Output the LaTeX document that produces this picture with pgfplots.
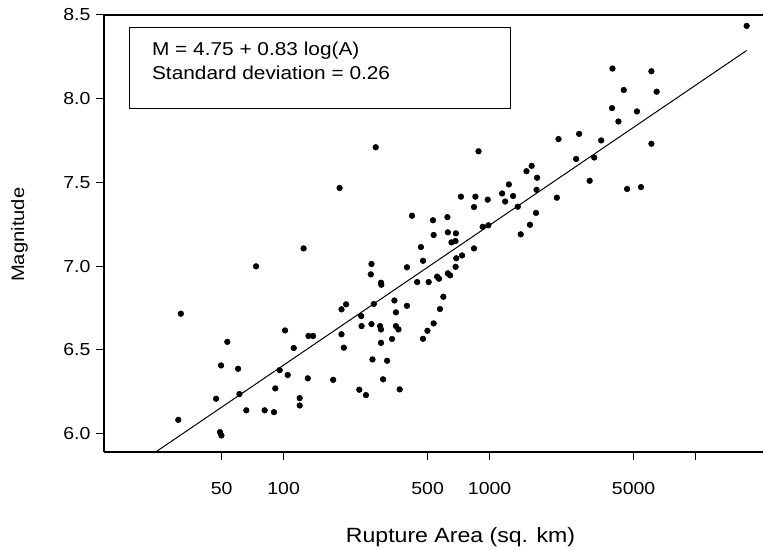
\documentclass[border=0pt]{standalone}
\usepackage{fontspec}
\setmainfont{Liberation Sans}[FakeStretch=1.12]
\usepackage{pgfplots}
\pgfplotsset{compat=1.18}

\begin{document}
\begin{tikzpicture}
\begin{axis}[
    at={(0,0)}, anchor=south west,
    scale only axis, width=329.5bp, height=218.5bp,
    xmode=log, xmin=13.43, xmax=21240,
    ymin=5.89, ymax=8.5,
    axis lines=left, axis line style={-, line width=0.6bp},
    tick align=outside, major tick length=4bp,
    tick style={line width=0.5bp, black},
    xtick={50,100,500,1000,5000,10000},
    xticklabels={50,100,500,1000,5000,{}},
    minor xtick={},
    ytick={6,6.5,7,7.5,8,8.5},
    /pgf/number format/assume math mode=true,
    xticklabel style={font=\fontsize{8.7bp}{10bp}\selectfont, anchor=north, inner sep=0pt, yshift=-11bp},
    yticklabel style={font=\fontsize{8.7bp}{10bp}\selectfont, anchor=east, inner sep=0pt, xshift=-2.6bp,
        /pgf/number format/.cd, fixed, fixed zerofill, precision=1},
    xlabel={Rupture Area (sq. km)},
    xlabel style={font=\fontsize{10.3bp}{12bp}\selectfont, at={(axis description cs:0.541,-0.2082)}, anchor=base, inner sep=0pt},
    ylabel={Magnitude},
    ylabel style={font=\fontsize{9bp}{11bp}\selectfont, at={(axis description cs:-0.1282,0.497)}, anchor=center, inner sep=0pt},
]
% fitted line
\addplot[no marks, black, line width=0.5bp] coordinates {(22.4,5.866) (17700,8.288)};
% earthquakes
\addplot[only marks, mark=*, mark size=1.4bp, mark options={fill=black, draw=black, line width=0.3bp}] coordinates {
(17700,8.435) (3950,8.180) (6100,8.164) (4480,8.052) (6470,8.042)
(3930,7.944) (5190,7.924) (4220,7.864) (6100,7.731) (280,7.710)
(883,7.686) (2160,7.759) (2720,7.790) (3480,7.751) (2630,7.640)
(3220,7.649) (3060,7.510) (4650,7.461) (5430,7.472) (187,7.467)
(1600,7.599) (1510,7.567) (1700,7.528) (1690,7.456) (1240,7.488)
(1150,7.434) (1300,7.419) (1190,7.386) (2120,7.409) (1370,7.355)
(1680,7.318) (726,7.415) (853,7.415) (979,7.397) (840,7.353)
(420,7.301) (624,7.293) (531,7.274) (925,7.235) (986,7.244)
(1570,7.247) (1416,7.190) (627,7.202) (535,7.186) (686,7.196)
(653,7.142) (683,7.150) (464,7.114) (840,7.106) (735,7.064)
(689,7.047) (125,7.106) (267,7.013) (475,7.032) (397,6.993)
(684,6.996) (265,6.951) (627,6.957) (643,6.945) (297,6.901)
(298,6.889) (445,6.905) (506,6.905) (556,6.937) (568,6.925)
(73.5,6.999) (31.7,6.716) (596,6.817) (345,6.795) (274,6.774)
(201,6.772) (191,6.742) (397,6.763) (574,6.744) (351,6.724)
(238,6.702) (239,6.642) (267,6.654) (294,6.642) (297,6.622)
(351,6.642) (361,6.622) (535,6.658) (499,6.614) (101.6,6.616)
(191,6.593) (475,6.566) (336,6.565) (297,6.542) (132,6.583)
(139,6.583) (53.3,6.548) (196,6.513) (112,6.511) (49.7,6.407)
(60.1,6.387) (270,6.443) (318,6.435) (95.7,6.379) (104.7,6.350)
(61,6.236) (131,6.330) (174,6.321) (304,6.324) (91.1,6.270)
(233,6.262) (366,6.264) (251,6.230) (47,6.208) (119.7,6.212)
(119.7,6.168) (65.9,6.139) (80.9,6.139) (89.8,6.128) (30.8,6.082)
(49.1,6.009) (49.9,5.989)
};
\end{axis}
% top border (right side runs off the picture)
\draw[line width=0.7bp] (0,218.5bp) -- (329.5bp,218.5bp);
% equation box
\draw[line width=0.5bp] (12.65bp,171.8bp) rectangle (203.3bp,212.3bp);
\node[anchor=base west, inner sep=0pt, font=\fontsize{9.3bp}{11bp}\selectfont] at (23.85bp,198bp) {M = 4.75 + 0.83 log(A)};
\node[anchor=base west, inner sep=0pt, font=\fontsize{9.3bp}{11bp}\selectfont] at (23.85bp,186bp) {Standard deviation = 0.26};
\pgfresetboundingbox
\path (-52bp,-49bp) rectangle (329.5bp,226bp);
\end{tikzpicture}
\end{document}
